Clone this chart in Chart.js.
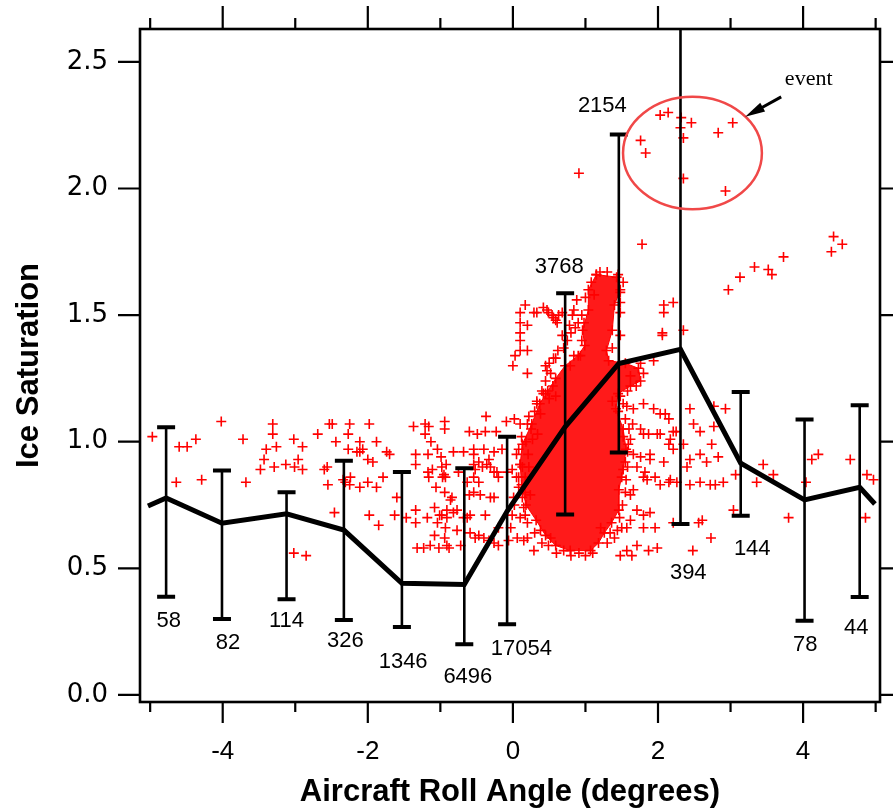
<!DOCTYPE html>
<html>
<head>
<meta charset="utf-8">
<script src="https://cdn.jsdelivr.net/npm/chart.js@4/dist/chart.umd.min.js"></script>
<style>
  html, body { margin: 0; padding: 0; background: #fff; }
  #wrap { width: 893px; height: 811px; }
</style>
</head>
<body>
<div id="wrap"><canvas id="iceChart" width="893" height="811"></canvas></div>
<script>
    // Binned statistics (black line + error bars)
    const binAngle = [-4.78, -4.01, -3.12, -2.33, -1.53, -0.67, -0.08, 0.72, 1.46, 2.31, 3.14, 4.02, 4.78];
    const binMean  = [0.778, 0.678, 0.715, 0.651, 0.441, 0.436, 0.725, 1.059, 1.309, 1.365, 0.915, 0.770, 0.820];
    const binUpper = [1.057, 0.886, 0.800, 0.925, 0.880, 0.895, 1.020, 1.586, 2.213, 2.700, 1.196, 1.088, 1.144];
    const binLower = [0.388, 0.300, 0.378, 0.296, 0.268, 0.200, 0.279, 0.713, 0.957, 0.675, 0.708, 0.293, 0.387];
    const binCount = [58, 82, 114, 326, 1346, 6496, 17054, 3768, 2154, 394, 144, 78, 44];

    // the mean line runs a little past the outer bins
    const edgeAngle = [-5.03, 4.99];
    const edgeMean  = [0.746, 0.754];

    // tick labels
    const xMajorTicks = [-4, -2, 0, 2, 4];
    const xMinorTicks = [-5, -3, -1, 1, 3, 5];
    const yMajorTicks = [0, 0.5, 1.0, 1.5, 2.0, 2.5];

    // individual samples [roll, ice saturation]
    const samplesLeft = [
      [-4.97,1.02],[-4.02,1.08],[-4.60,0.98],[-4.49,0.98],[-4.37,1.01],[-4.64,0.84],[-4.29,0.85],[-3.72,1.01],
      [-3.68,0.84],[-3.31,1.07],[-3.31,1.03],[-3.40,0.97],[-3.26,0.98],[-3.43,0.93],[-3.48,0.89],[-3.29,0.90],
      [-3.13,0.91],[-3.02,1.01],[-2.90,0.98],[-2.96,0.93],[-3.01,0.90],[-2.90,0.89],[-3.02,0.56],[-2.85,0.55],
      [-2.69,1.03],[-2.53,1.07],[-2.49,1.07],[-2.25,1.07],[-1.98,1.07],[-2.44,1.00],[-2.27,1.03],[-2.11,1.00],
      [-1.88,1.00],[-2.27,0.97],[-2.11,0.96],[-2.07,0.97],[-1.74,0.96],[-2.00,0.93],[-1.93,0.92],[-2.60,0.89],
      [-2.56,0.90],[-2.24,0.86],[-2.31,0.84],[-2.25,0.83],[-2.55,0.83],[-2.11,0.82],[-2.00,0.84],[-1.88,0.82],
      [-1.79,0.86],[-2.46,0.72],[-1.98,0.71],[-1.85,0.67],[-2.15,0.96],[-1.70,0.95],[-2.34,0.85]
    ];
    const samplesMid = [
      [-1.37,1.06],[-1.21,1.07],[-0.94,1.08],[-0.94,1.05],[-1.21,1.03],[-1.13,1.00],[-1.34,0.95],[-1.04,0.97],
      [-0.99,0.94],[-1.34,0.91],[-1.17,0.88],[-1.11,0.89],[-0.98,0.90],[-0.97,0.86],[-1.06,0.82],[-0.94,0.80],
      [-0.86,0.77],[-1.60,0.78],[-1.34,0.73],[-1.63,0.71],[-1.47,0.70],[-1.34,0.68],[-1.18,0.70],[-1.08,0.74],
      [-0.98,0.71],[-0.82,0.72],[-0.68,0.70],[-1.08,0.63],[-0.94,0.62],[-1.14,0.59],[-1.32,0.58],[-1.23,0.58],
      [-1.02,0.58],[-0.88,0.58],[-0.72,0.59],[-0.59,0.71],[-0.60,0.79],[-0.45,0.79],[-0.38,0.71],[-0.37,1.10],
      [-0.60,1.04],[-0.38,1.04],[-0.23,1.04],[-0.09,1.08],[0.02,1.09],[-0.54,0.97],[-0.40,0.97],[-0.26,0.96],
      [-0.47,0.92],[-0.36,0.91],[-0.52,0.89],[-0.26,0.88],[-0.63,0.84],[-0.47,0.84],[-0.31,0.78],[-0.59,0.64],
      [-0.47,0.63],[-0.33,0.61],[-0.20,0.59],[-0.03,0.66],[-0.06,0.61],[0.17,0.71],[0.15,0.61],[0.10,0.91],
      [0.17,0.86],[0.17,0.80],[-1.16,1.06],[-1.17,0.95],[-1.16,0.86],[-0.92,0.91],[-0.93,0.86],[-1.01,0.71],
      [-0.91,0.70],[-1.04,0.68],[-0.93,0.66],[-0.49,1.03],[0.10,1.07],[0.20,1.07],[0.33,1.15],[0.45,1.19],
      [0.59,1.18],[-0.82,0.96],[-0.68,0.96],[-0.54,0.95],[-0.15,0.97],[0.08,0.97],[-0.54,0.91],[-0.42,0.90],
      [-0.31,0.90],[-0.33,0.93],[-0.22,0.88],[-0.01,0.89],[0.13,0.90],[-0.95,0.87],[-0.75,0.88],[-0.54,0.86],
      [-0.20,0.86],[-0.08,0.88],[0.08,0.86],[0.22,0.90],[-0.84,0.78],[-0.54,0.80],[-0.26,0.78],[0.01,0.78],
      [0.13,0.78],[0.24,0.79],[-0.91,0.73],[-0.77,0.73],[-0.63,0.70],[-0.01,0.71],[-0.77,0.65],[-0.20,0.66],
      [0.06,0.62],[-0.52,0.62],[-0.40,0.62],[-0.26,0.60],[0.20,0.62],[0.38,0.65],[0.52,0.62],[-0.91,0.59]
    ];
    const samplesCore = [
      [0.17,1.54],[0.10,1.51],[0.10,1.47],[0.20,1.46],[0.10,1.43],[0.10,1.40],[0.10,1.36],[0.20,1.36],
      [0.03,1.34],[0.00,1.30],[0.20,1.27],[0.29,1.51],[0.33,1.51],[0.42,1.53],[0.47,1.52],[0.54,1.50],
      [0.59,1.48],[0.63,1.50],[0.59,1.33],[0.47,1.28],[0.42,1.19],[0.33,1.16],[0.49,1.51],[0.56,1.49],
      [0.61,1.47],[0.68,1.51],[0.82,1.50],[0.84,1.52],[0.88,1.56],[1.00,1.57],[0.95,1.40],[0.56,1.33],
      [0.79,1.30],[0.84,1.34],[0.93,1.34],[1.37,1.37],[1.48,1.55],[1.48,1.51],[1.48,1.42],[1.48,1.59],
      [1.55,1.09],[1.62,1.01],[1.65,1.07],[1.56,0.85],[1.62,0.79],[1.51,0.75],[1.55,0.92],[1.66,0.95],
      [1.48,1.18],[1.37,1.16],[0.45,1.24],[0.38,1.11],[0.27,1.01],[0.21,0.95],[0.34,1.03],
      [1.21,0.66],[1.44,0.65],[1.34,0.64],[0.29,0.57],[0.49,0.59],[0.70,0.57],[0.91,0.56],
      [0.45,1.30],[0.52,1.27],[0.50,1.31],[0.62,1.36],[0.70,1.37],[0.75,1.40],[0.80,1.43],[0.86,1.45],
      [0.90,1.47],[0.78,1.46],[0.95,1.50],[0.98,1.47],[0.68,1.42],[0.55,1.22],[0.50,1.17],[0.40,1.20],
      [0.30,1.12],[0.25,1.05],[0.18,1.00],[0.22,1.10],[1.08,1.63],[1.12,1.58],[1.52,1.63],[1.45,1.66],
      [1.30,1.67],[1.20,1.67],[1.80,1.27],[1.70,1.22],[1.62,1.26],[1.76,1.31],[1.58,1.20],[1.52,1.02],
      [1.58,0.96],[1.50,0.86],[1.55,0.80],[1.47,0.70],[1.40,0.62],[1.30,0.60],[1.50,0.66],[1.58,0.90],
      [1.60,1.05],[1.45,1.12],[1.52,1.15],[0.60,0.56],[0.80,0.55],[1.00,0.55],[1.10,0.56],[0.40,0.60],
      [0.30,0.64],[0.20,0.68],[0.15,0.74],[0.08,0.82],[0.05,0.95],[0.12,1.02],[0.05,0.86],[0.02,0.75],[0.10,0.70]
    ];
    const samplesRight = [
      [2.08,1.54],[2.21,1.55],[2.08,1.51],[2.06,1.43],[2.06,1.42],[2.35,1.44],[2.97,1.60],[1.94,1.32],
      [2.44,1.13],[2.77,1.14],[2.93,1.13],[1.94,1.13],[2.10,1.11],[2.15,1.09],[1.80,1.15],[1.66,1.13],
      [1.57,1.14],[1.76,1.05],[1.87,1.03],[1.99,1.03],[2.03,1.03],[2.21,1.04],[2.49,1.07],[2.58,1.04],
      [2.77,1.06],[2.15,0.99],[2.21,0.97],[2.35,0.99],[2.44,0.93],[2.40,0.90],[2.58,0.95],[2.67,0.92],
      [2.74,0.99],[2.83,0.94],[1.76,0.94],[1.89,0.93],[2.08,0.92],[1.71,0.90],[1.59,0.99],[1.85,0.85],
      [1.66,0.81],[2.03,0.83],[2.17,0.85],[2.26,0.84],[2.44,0.83],[2.58,0.84],[2.72,0.83],[2.79,0.83],
      [2.90,0.84],[3.04,0.73],[1.89,0.72],[1.71,0.73],[1.62,0.69],[1.57,0.66],[1.80,0.66],[1.96,0.66],
      [2.61,0.69],[2.56,0.68],[2.73,0.62],[2.48,0.57],[1.99,0.58],[1.87,0.57],[1.71,0.59],[1.57,0.57],
      [1.48,0.55],[1.64,0.55],[3.45,0.91],[3.59,0.87],[3.36,0.84],[3.07,0.87],[3.80,0.70],[4.04,0.84],
      [4.12,0.93],[4.21,0.95],[4.65,0.93],[4.88,0.87],[4.97,0.85],[4.86,0.70],[2.03,1.11],[1.80,1.03],
      [2.25,1.04],[2.17,1.01],[1.89,0.95],[1.82,0.88],[1.80,0.86],[1.96,0.86],[2.15,0.84],[1.80,0.71],[2.21,0.68]
    ];
    const samplesHigh = [
      [2.03,2.29],[2.14,2.30],[2.32,2.28],[2.46,2.26],[3.03,2.26],[2.31,2.24],[2.35,2.20],[2.83,2.22],
      [1.76,2.19],[1.83,2.14],[0.91,2.06],[2.35,2.04],[2.93,1.99],[1.78,1.78],[4.42,1.81],[4.54,1.78],
      [4.39,1.75],[3.73,1.73],[3.33,1.69],[3.52,1.68],[3.57,1.66],[3.13,1.65]
    ];
    // outline of the region where samples overlap into solid red
    const denseCoreOutline = [
      [1.15,1.66],[1.43,1.65],[1.48,1.60],[1.40,1.54],[1.37,1.44],[1.29,1.36],[1.32,1.32],[1.55,1.31],
      [1.73,1.29],[1.76,1.24],[1.62,1.22],[1.45,1.19],[1.42,1.13],[1.52,1.05],[1.56,0.97],[1.52,0.89],
      [1.46,0.81],[1.46,0.73],[1.36,0.68],[1.26,0.64],[1.18,0.60],[1.07,0.57],[0.79,0.57],[0.59,0.59],
      [0.45,0.63],[0.32,0.69],[0.18,0.75],[0.12,0.83],[0.10,0.91],[0.13,0.99],[0.26,1.07],[0.37,1.15],
      [0.48,1.20],[0.59,1.25],[0.72,1.30],[0.90,1.34],[0.99,1.38],[0.96,1.44],[1.04,1.52],[1.04,1.60],[1.15,1.66]
    ];

    // axis ranges
    const X_MIN = -5.14, X_MAX = 5.06, Y_MIN = -0.028, Y_MAX = 2.63;

    // where the sample counts are written (data units)
    const countLabelAt = [
      [-4.745,0.293],[-3.928,0.205],[-3.120,0.293],[-2.310,0.213],[-1.513,0.131],[-0.621,0.072],[0.117,0.182],
      [0.640,1.690],[1.233,2.325],[2.417,0.482],[3.299,0.576],[4.029,0.197],[4.732,0.264]
    ];
    // "event" circle, arrow and text (data units)
    const eventMark = { cx: 2.475, cy: 2.140, rx: 0.957, ry: 0.222 };
    const eventArrow = { x0: 3.698, y0: 2.362, x1: 3.202, y1: 2.283 };
    const eventText = { x: 4.077, y: 2.432 };

    const meanLine = [[edgeAngle[0], edgeMean[0]]]
      .concat(binAngle.map((a, i) => [a, binMean[i]]))
      .concat([[edgeAngle[1], edgeMean[1]]]);

    /**
     * Error bars, counts, annotation, frame and ticks on every side.
     */
    const overlayPlugin = {
      id: 'overlay',
      afterDatasetsDraw: function(chart) {
        const ctx = chart.ctx;
        const a = chart.chartArea;
        const x = chart.scales.x, y = chart.scales.y;

        ctx.save();
        ctx.beginPath();
        ctx.rect(a.left, a.top, a.right - a.left, a.bottom - a.top);
        ctx.clip();

        // error bars
        ctx.strokeStyle = '#000';
        binAngle.forEach((ang, i) => {
          const px = x.getPixelForValue(ang);
          const top = y.getPixelForValue(binUpper[i]);
          const bot = y.getPixelForValue(binLower[i]);
          ctx.lineWidth = 2.6;
          ctx.beginPath();
          ctx.moveTo(px, top); ctx.lineTo(px, bot);
          ctx.stroke();
          ctx.lineWidth = 4;
          ctx.beginPath();
          ctx.moveTo(px - 9, top); ctx.lineTo(px + 9, top);
          ctx.moveTo(px - 9, bot); ctx.lineTo(px + 9, bot);
          ctx.stroke();
        });

        // event ellipse
        const ecx = x.getPixelForValue(eventMark.cx), ecy = y.getPixelForValue(eventMark.cy);
        const erx = x.getPixelForValue(eventMark.cx + eventMark.rx) - ecx;
        const ery = ecy - y.getPixelForValue(eventMark.cy + eventMark.ry);
        ctx.strokeStyle = '#f04848';
        ctx.lineWidth = 2.5;
        ctx.beginPath();
        ctx.ellipse(ecx, ecy, erx, ery, 0, 0, Math.PI * 2);
        ctx.stroke();

        // arrow
        const ax0 = x.getPixelForValue(eventArrow.x0), ay0 = y.getPixelForValue(eventArrow.y0);
        const ax1 = x.getPixelForValue(eventArrow.x1), ay1 = y.getPixelForValue(eventArrow.y1);
        const ang = Math.atan2(ay1 - ay0, ax1 - ax0);
        ctx.strokeStyle = '#000';
        ctx.fillStyle = '#000';
        ctx.lineWidth = 3;
        ctx.beginPath();
        ctx.moveTo(ax0, ay0);
        ctx.lineTo(ax1 - 10 * Math.cos(ang), ay1 - 10 * Math.sin(ang));
        ctx.stroke();
        ctx.beginPath();
        ctx.moveTo(ax1, ay1);
        ctx.lineTo(ax1 - 20 * Math.cos(ang) + 5 * Math.sin(ang), ay1 - 20 * Math.sin(ang) - 5 * Math.cos(ang));
        ctx.lineTo(ax1 - 20 * Math.cos(ang) - 5 * Math.sin(ang), ay1 - 20 * Math.sin(ang) + 5 * Math.cos(ang));
        ctx.closePath();
        ctx.fill();
        ctx.restore();

        // texts
        ctx.save();
        ctx.fillStyle = '#000';
        ctx.textAlign = 'center';
        ctx.textBaseline = 'middle';
        ctx.font = '22px "Liberation Sans", Arial, sans-serif';
        binCount.forEach((n, i) => {
          ctx.fillText(String(n), x.getPixelForValue(countLabelAt[i][0]), y.getPixelForValue(countLabelAt[i][1]));
        });
        ctx.font = '22px "Liberation Serif", "Times New Roman", serif';
        ctx.fillText('event', x.getPixelForValue(eventText.x), y.getPixelForValue(eventText.y));

        // ticks on all four sides
        ctx.strokeStyle = '#000';
        ctx.lineWidth = 2.2;
        ctx.beginPath();
        xMajorTicks.forEach(v => {
          const px = x.getPixelForValue(v);
          ctx.moveTo(px, a.bottom); ctx.lineTo(px, a.bottom + 21);
          ctx.moveTo(px, a.top); ctx.lineTo(px, a.top - 23);
        });
        xMinorTicks.forEach(v => {
          const px = x.getPixelForValue(v);
          ctx.moveTo(px, a.bottom); ctx.lineTo(px, a.bottom + 10);
          ctx.moveTo(px, a.top); ctx.lineTo(px, a.top - 11);
        });
        yMajorTicks.forEach(v => {
          const py = y.getPixelForValue(v);
          ctx.moveTo(a.left - 22, py); ctx.lineTo(a.left, py);
          ctx.moveTo(a.right, py); ctx.lineTo(a.right + 22, py);
        });
        ctx.stroke();

        // frame
        ctx.lineWidth = 2.6;
        ctx.strokeRect(a.left, a.top, a.right - a.left, a.bottom - a.top);
        ctx.restore();
      }
    };

    const ctx = document.getElementById('iceChart').getContext('2d');
    new Chart(ctx, {
      type: 'scatter',
      data: {
        datasets: [
          {
            label: 'dense core',
            data: denseCoreOutline,
            showLine: true,
            fill: 'shape',
            backgroundColor: '#ff1a1a',
            borderColor: '#ff0000',
            borderWidth: 1,
            pointStyle: 'cross',
            pointRadius: 5,
            pointBorderColor: '#ff0000',
            pointBorderWidth: 1.6,
            order: 3
          },
          {
            label: 'samples',
            data: samplesLeft.concat(samplesMid, samplesCore, samplesRight, samplesHigh),
            pointStyle: 'cross',
            pointRadius: 5,
            borderColor: '#ff0000',
            pointBorderColor: '#ff0000',
            borderWidth: 1.6,
            pointBorderWidth: 1.6,
            order: 2
          },
          {
            label: 'bin mean',
            data: meanLine,
            showLine: true,
            borderColor: '#000',
            borderWidth: 5,
            pointRadius: 0,
            tension: 0,
            order: 1
          }
        ]
      },
      options: {
        responsive: false,
        animation: false,
        events: [],
        layout: { padding: { top: 29, right: 13, left: 0, bottom: 0 } },
        plugins: {
          legend: { display: false },
          tooltip: { enabled: false }
        },
        scales: {
          x: {
            type: 'linear',
            min: X_MIN,
            max: X_MAX,
            afterBuildTicks: s => { s.ticks = xMajorTicks.map(v => ({ value: v })); },
            afterFit: s => {
              s.height = 109;
              s.paddingLeft = 0; s.paddingRight = 0; s.paddingTop = 0; s.paddingBottom = 0;
            },
            grid: { display: false, drawTicks: false },
            border: { display: false },
            ticks: {
              padding: 34,
              color: '#000',
              maxRotation: 0,
              autoSkip: false,
              font: { family: '"Liberation Sans", Arial, sans-serif', size: 26 },
              callback: v => String(v)
            },
            title: {
              display: true,
              text: 'Aircraft Roll Angle (degrees)',
              color: '#000',
              font: { family: '"Liberation Sans", Arial, sans-serif', size: 31, weight: 'bold' },
              padding: { top: 0, bottom: 0 }
            }
          },
          y: {
            type: 'linear',
            min: Y_MIN,
            max: Y_MAX,
            afterBuildTicks: s => { s.ticks = yMajorTicks.map(v => ({ value: v })); },
            afterFit: s => {
              s.width = 140;
              s.paddingLeft = 0; s.paddingRight = 0; s.paddingTop = 0; s.paddingBottom = 0;
            },
            grid: { display: false, drawTicks: false },
            border: { display: false },
            ticks: {
              padding: 32,
              color: '#000',
              autoSkip: false,
              font: { family: '"DejaVu Sans", sans-serif', size: 26 },
              callback: v => v.toFixed(1)
            },
            title: {
              display: true,
              text: 'Ice Saturation',
              color: '#000',
              font: { family: '"Liberation Sans", Arial, sans-serif', size: 31, weight: 'bold' },
              padding: { top: 11, bottom: 0 }
            }
          }
        }
      },
      plugins: [overlayPlugin]
    });
</script>
</body>
</html>
